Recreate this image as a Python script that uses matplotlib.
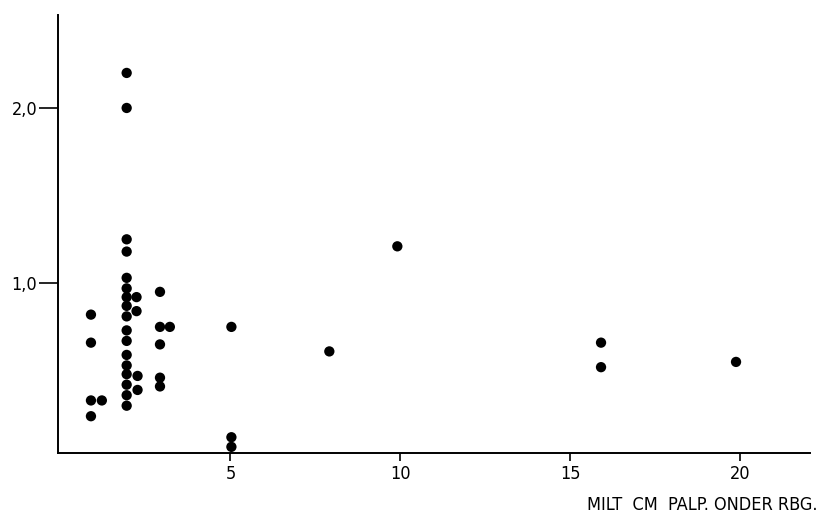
import matplotlib
matplotlib.use('Agg')
import matplotlib.pyplot as plt

# spleen size (cm palpable below rib margin) vs. value
milt_cm = [1.95, 1.95, 1.95, 1.95, 1.95, 1.95, 1.95, 1.95, 1.95, 1.95,
           1.95, 1.95, 1.95, 1.95, 1.95, 1.95, 1.95,
           2.24, 2.24, 2.27, 2.27,
           0.9, 0.9, 0.9, 0.9, 1.22,
           2.93, 2.93, 2.93, 2.93, 2.93, 3.22,
           5.03, 5.03, 5.03, 7.91, 9.91, 15.9, 15.9, 19.87]
waarde = [2.20, 2.00, 1.25, 1.18, 1.03, 0.97, 0.92, 0.87, 0.81, 0.73,
          0.67, 0.59, 0.53, 0.48, 0.42, 0.36, 0.30,
          0.92, 0.84, 0.47, 0.39,
          0.82, 0.66, 0.33, 0.24, 0.33,
          0.95, 0.75, 0.65, 0.46, 0.41, 0.75,
          0.75, 0.12, 0.065, 0.61, 1.21, 0.66, 0.52, 0.55]

x_ticks = [5, 10, 15, 20]
y_ticks = [1.0, 2.0]
y_labels = ['1,0', '2,0']

plt.rcParams['font.family'] = ['DejaVu Sans']
plt.rcParams['font.stretch'] = 'condensed'

fig = plt.figure(figsize=(8.2, 5.22), dpi=100)
ax = fig.add_axes([0.0707, 0.1322, 0.9173, 0.8388])

ax.scatter(milt_cm, waarde, s=55, color='black', edgecolors='none')

ax.set_xlim(-0.07, 22.05)
ax.set_ylim(0.03, 2.53)

for side in ['top', 'right']:
    ax.spines[side].set_visible(False)
for side in ['left', 'bottom']:
    ax.spines[side].set_linewidth(1.4)

ax.set_xticks(x_ticks)
ax.set_xticklabels([str(t) for t in x_ticks])
ax.set_yticks(y_ticks)
ax.set_yticklabels(y_labels)
ax.tick_params(axis='x', direction='out', length=6, width=1.2, pad=3, labelsize=13)
ax.tick_params(axis='y', direction='out', length=14, width=1.2, pad=1, labelsize=13)

fig.text(0.997, 0.015, 'MILT  CM  PALP. ONDER RBG.', ha='right', va='bottom', fontsize=13)

fig.savefig('out.png', dpi=100)
